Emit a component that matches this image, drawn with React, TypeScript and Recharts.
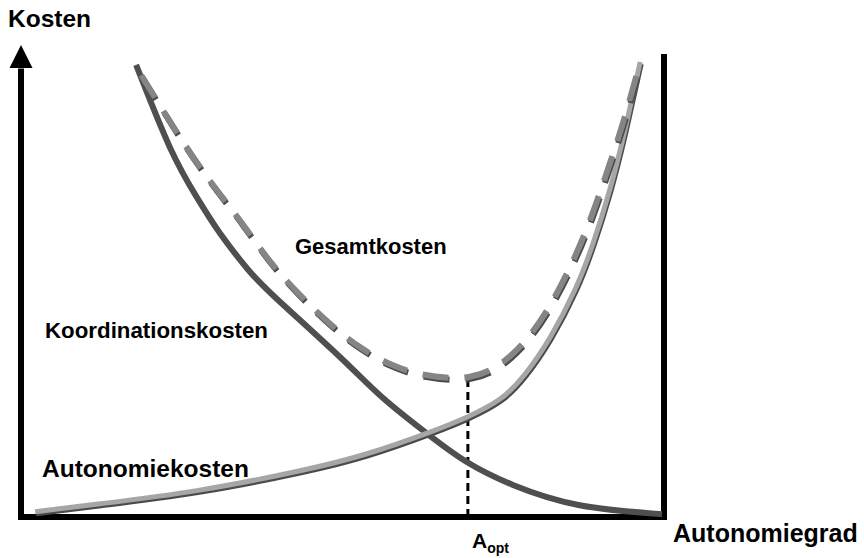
import {
  LineChart,
  Line,
  XAxis,
  YAxis,
  ReferenceLine,
  ReferenceDot,
  Customized,
} from "recharts";

// Autonomiegrad (x) and Kosten (y), both on a 0..100 scale
const koordX = [17.9, 23.2, 27.4, 31, 35.2, 39.8, 49.6, 56.3, 63.6, 69.4, 76.5, 86.9, 99.7];
const koordY = [95.8, 78.2, 67.6, 60, 52.6, 46.2, 33.9, 25.2, 17.2, 11.6, 6.8, 2.5, 0.6];

const autoX = [2.2, 12.3, 27.8, 43.4, 53.8, 63.6, 69.4, 74.5, 78.4, 82.3, 86.2, 89, 91.6, 93.9, 96.3];
const autoY = [1.1, 2.8, 5.7, 9.8, 13.4, 18, 21.2, 25, 30.3, 38.1, 48.3, 58.1, 69.5, 81.8, 96.4];

const gesamtX = [18.7, 24.7, 29.4, 34.1, 38.7, 43.4, 48.1, 52.7, 57.4, 62.1, 66.7, 69.8, 72.9, 76.1, 79.2, 82.3, 85.4, 88.5, 91.6, 93.9, 96.3];
const gesamtY = [93.6, 80.5, 71.2, 62.7, 54.2, 47, 40.9, 36, 32.4, 30.3, 29.5, 29.7, 31.1, 34.1, 38.6, 44.9, 53, 62.9, 75, 84.8, 96.4];

const aOpt = 69.5;
const aOptCost = 29;

const toPoints = (xs: number[], ys: number[]) => xs.map((x, i) => ({ x, y: ys[i] }));

const koordData = toPoints(koordX, koordY);
const autoData = toPoints(autoX, autoY);
const gesamtData = toPoints(gesamtX, gesamtY);

const font = "'Liberation Sans', Arial, sans-serif";

function Arrow(props: any) {
  const { cx, cy } = props;
  return <path d={`M${cx},${cy} L${cx - 11.5},${cy + 23} L${cx + 11.5},${cy + 23} Z`} fill="#000" />;
}

function Labels() {
  return (
    <g fontFamily={font} fontWeight="bold" fill="#000">
      <text x={8} y={27} fontSize={24.5}>Kosten</text>
      <text x={45} y={338} fontSize={22.3}>Koordinationskosten</text>
      <text x={295} y={254} fontSize={22}>Gesamtkosten</text>
      <text x={42} y={477} fontSize={24.5}>Autonomiekosten</text>
      <text x={673} y={542} fontSize={25}>Autonomiegrad</text>
      <text x={472} y={548} fontSize={21}>
        A<tspan fontSize={14} dy={5}>opt</tspan>
      </text>
    </g>
  );
}

export default function App() {
  return (
    <div style={{ position: "absolute", left: 0, top: 0, background: "#fff" }}>
      <style>{`
        .auto-line path { filter: drop-shadow(1px 2px 0 #4a4a4a); }
        .gesamt-line path { filter: drop-shadow(1px 2px 0 #4a4a4a); }
      `}</style>
      <LineChart
        width={864}
        height={558}
        margin={{ top: 45, right: 200, bottom: 41, left: 21 }}
      >
        <XAxis type="number" dataKey="x" domain={[0, 100]} hide allowDataOverflow />
        <YAxis type="number" dataKey="y" domain={[0, 100]} hide allowDataOverflow />

        {/* axes */}
        <ReferenceLine
          segment={[{ x: 0, y: -0.6 }, { x: 0, y: 95 }]}
          stroke="#000"
          strokeWidth={6}
          ifOverflow="visible"
        />
        <ReferenceLine
          segment={[{ x: -0.45, y: 0 }, { x: 100.45, y: 0 }]}
          stroke="#000"
          strokeWidth={6}
          ifOverflow="visible"
        />
        <ReferenceLine
          segment={[{ x: 100, y: -0.6 }, { x: 100, y: 98.1 }]}
          stroke="#000"
          strokeWidth={6}
          ifOverflow="visible"
        />
        <ReferenceDot x={0} y={100} r={0} shape={Arrow} ifOverflow="visible" />

        {/* optimum */}
        <ReferenceLine
          segment={[{ x: aOpt, y: 0 }, { x: aOpt, y: aOptCost }]}
          stroke="#000"
          strokeWidth={3}
          strokeDasharray="8 5"
          ifOverflow="visible"
        />

        <Line
          data={koordData}
          dataKey="y"
          type="natural"
          stroke="#4f4f4f"
          strokeWidth={6}
          dot={false}
          activeDot={false}
          isAnimationActive={false}
        />
        <Line
          data={autoData}
          dataKey="y"
          type="natural"
          className="auto-line"
          stroke="#a6a6a6"
          strokeWidth={5}
          dot={false}
          activeDot={false}
          isAnimationActive={false}
        />
        <Line
          data={gesamtData}
          dataKey="y"
          type="natural"
          className="gesamt-line"
          stroke="#858585"
          strokeWidth={6}
          strokeDasharray="26 16"
          dot={false}
          activeDot={false}
          isAnimationActive={false}
        />
        <Customized component={Labels} />
      </LineChart>
    </div>
  );
}
